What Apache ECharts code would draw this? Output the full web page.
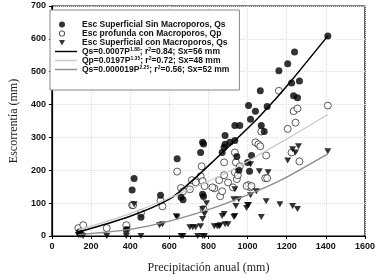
<!DOCTYPE html>
<html>
<head>
<meta charset="utf-8">
<script src="https://cdn.jsdelivr.net/npm/echarts@6/dist/echarts.min.js"></script>
<style>
  html, body { margin: 0; padding: 0; background: #fff; }
  #chart { width: 378px; height: 279px; }
</style>
</head>
<body>
<div id="chart"></div>
<script>
// puntos: [precipitacion, escorrentia] en mm
var qsSinMacro = [[140,12],[150,6],[380,18],[410,140],[420,175],[455,57],[555,124],[640,235],[660,118],[670,110],
  [760,254],[770,285],[775,280],[770,127],[775,120],[870,254],[880,270],[885,306],[885,279],[910,285],[935,291],
  [935,336],[960,336],[945,242],[955,200],[1000,224],[1010,197],[1005,397],[1015,355],[1020,245],[1040,380],
  [1065,442],[1070,336],[1085,318],[1100,394],[1160,503],[1205,524],[1225,466],[1240,560],[1235,427],[1255,421],
  [1265,472],[1410,609]];

var qpConMacro = [[135,24],[160,33],[280,24],[380,33],[410,94],[415,94],[455,70],[555,108],[565,90],[640,196],
  [660,146],[670,136],[705,142],[715,170],[735,163],[760,182],[765,212],[770,167],[780,152],[830,145],[860,121],
  [870,136],[820,148],[855,170],[880,224],[880,185],[900,163],[925,148],[935,254],[940,224],[935,194],[945,173],
  [950,185],[960,212],[1005,155],[1015,148],[995,152],[1020,152],[1040,285],[1055,279],[1065,273],[1070,318],
  [1095,245],[1090,176],[1100,176],[1160,442],[1205,326],[1225,254],[1235,380],[1245,345],[1255,388],[1265,227],
  [1410,397],[775,82]];

var qsConMacro = [[135,3],[160,0],[280,0],[380,0],[385,20],[420,97],[455,0],[550,33],[565,36],[635,60],[640,57],
  [660,0],[670,0],[705,27],[720,27],[735,27],[745,0],[760,30],[770,0],[770,52],[770,82],[780,67],[780,0],[790,100],
  [830,30],[845,30],[855,30],[860,33],[870,61],[880,67],[885,36],[900,36],[930,58],[935,61],[930,112],[935,142],
  [940,91],[955,112],[995,85],[1000,94],[1005,94],[1015,124],[1015,218],[1045,136],[1060,197],[1070,58],[1095,106],
  [1105,194],[1165,97],[1205,230],[1230,264],[1245,254],[1260,273],[1230,91],[1255,82],[1410,258]];

// curvas de ajuste
var ajusteSin = [[135,12],[400,60],[600,112],[720,170],[820,225],[1045,354],[1140,415],[1220,470],[1410,609]];
var ajusteQp = [[135,18],[400,68],[670,133],[900,195],[1170,285],[1410,370]];
var ajusteCon = [[135,4],[400,20],[600,45],[800,80],[1000,125],[1170,170],[1410,250]];

var nombres = [
  'Esc Superficial Sin Macroporos, Qs',
  'Esc profunda con Macroporos, Qp',
  'Esc Superficial con Macroporos, Qs',
  'fit1', 'fit2', 'fit3'
];
var etiquetasAjuste = {
  fit1: '{a|Qs=0.0007P}{s|1.88}{a|; r}{s|2}{a|=0.84; Sx=56 mm}',
  fit2: '{a|Qp=0.0197P}{s|1.35}{a|; r}{s|2}{a|=0.72; Sx=48 mm}',
  fit3: '{a|Qs=0.000019P}{s|2.25}{a|; r}{s|2}{a|=0.56; Sx=52 mm}'
};
var colores = ['#000', '#000', '#000', '#000', '#c8c8c8', '#8c8c8c'];

var triangulo = 'path://M0,0L10,0L5,9Z';
// iconos de leyenda: los "M" extra fijan la caja a 22x6 para colocar el simbolo
var iconoCirculo = 'path://M0,0M22,6M10,3A3,3,0,1,1,4,3A3,3,0,1,1,10,3Z';
var iconoAnillo = 'path://M0,0M22,6M10,3A3,3,0,1,1,4,3A3,3,0,1,1,10,3Z' +
  'M9.2,3A2.2,2.2,0,1,0,4.8,3A2.2,2.2,0,1,0,9.2,3Z';
var iconoTriangulo = 'path://M0,0M22,6M4,0.6L10,0.6L7,6Z';
var linea = 'path://M0,0L22,0L22,1.4L0,1.4Z';
var fuente = 'Arial, "Liberation Sans", sans-serif';

var legendData = [
  { name: nombres[0], icon: iconoCirculo, itemStyle: { color: '#000', borderWidth: 0 } },
  { name: nombres[1], icon: iconoAnillo, itemStyle: { color: '#000', borderWidth: 0 } },
  { name: nombres[2], icon: iconoTriangulo, itemStyle: { color: '#000', borderWidth: 0 } },
  { name: nombres[3], icon: linea, itemStyle: { color: colores[3], borderWidth: 0 } },
  { name: nombres[4], icon: linea, itemStyle: { color: colores[4], borderWidth: 0 } },
  { name: nombres[5], icon: linea, itemStyle: { color: colores[5], borderWidth: 0 } }
];

var chart = echarts.init(document.getElementById('chart'));
var option = {
  animation: false,
  grid: {
    left: 45, right: 13, top: 6, bottom: 42,
    show: true, borderColor: '#000', borderWidth: 1.2
  },
  legend: {
    data: legendData,
    orient: 'vertical',
    left: 50, top: 10,
    padding: [10, 10, 16, 5],
    itemGap: 0,
    itemWidth: 22, itemHeight: 6,
    borderColor: '#888', borderWidth: 1,
    backgroundColor: '#fff',
    formatter: function (name) {
      return etiquetasAjuste[name] || '{a|' + name + '}';
    },
    textStyle: {
      fontFamily: fuente, color: '#111',
      rich: {
        a: { fontSize: 8.5, fontWeight: 'bold', fontFamily: fuente, color: '#111', lineHeight: 9 },
        s: { fontSize: 5, fontWeight: 'bold', fontFamily: fuente, color: '#111', lineHeight: 9, verticalAlign: 'top', padding: [0, 0, 4, 0] }
      }
    }
  },
  xAxis: {
    type: 'value', min: 0, max: 1600, interval: 200,
    name: 'Precipitación anual (mm)', nameLocation: 'middle', nameGap: 26,
    nameTextStyle: { fontFamily: '"Liberation Serif", "Times New Roman", serif', fontSize: 12, color: '#222' },
    axisLine: { lineStyle: { color: '#000', width: 1.2 } },
    axisTick: { show: true, length: 3, lineStyle: { color: '#000' } },
    axisLabel: {
      fontFamily: fuente, fontWeight: 'bold', fontSize: 9, color: '#111', margin: 6,
      formatter: function (v) { return String(v); }
    },
    splitLine: { lineStyle: { color: '#ddd', type: 'dotted', width: 1 } }
  },
  yAxis: {
    type: 'value', min: 0, max: 700, interval: 100,
    name: 'Escorrentía (mm)', nameLocation: 'middle', nameGap: 30,
    nameTextStyle: { fontFamily: '"Liberation Serif", "Times New Roman", serif', fontSize: 12, color: '#222' },
    axisLine: { show: true, lineStyle: { color: '#000', width: 1.2 } },
    axisTick: { show: true, length: 3, lineStyle: { color: '#000' } },
    axisLabel: {
      fontFamily: fuente, fontWeight: 'bold', fontSize: 9, color: '#111', margin: 6,
      formatter: function (v) { return String(v); }
    },
    splitLine: { lineStyle: { color: '#ddd', type: 'dotted', width: 1 } }
  },
  series: [
    {
      name: nombres[0], type: 'scatter', data: qsSinMacro,
      symbol: 'circle', symbolSize: 7, z: 4,
      itemStyle: { color: '#000' }
    },
    {
      name: nombres[1], type: 'scatter', data: qpConMacro,
      symbol: 'circle', symbolSize: 7, z: 3,
      itemStyle: { color: '#fff', borderColor: '#000', borderWidth: 0.8 }
    },
    {
      name: nombres[2], type: 'scatter', data: qsConMacro,
      symbol: triangulo, symbolSize: [7, 6], z: 3,
      itemStyle: { color: '#000' }
    },
    {
      name: nombres[3], type: 'line', data: ajusteSin, smooth: 0.3,
      symbol: 'none', z: 5,
      itemStyle: { color: colores[3] },
      lineStyle: { color: colores[3], width: 1.5 }
    },
    {
      name: nombres[4], type: 'line', data: ajusteQp, smooth: 0.3,
      symbol: 'none', z: 5,
      itemStyle: { color: colores[4] },
      lineStyle: { color: colores[4], width: 1.2 }
    },
    {
      name: nombres[5], type: 'line', data: ajusteCon, smooth: 0.3,
      symbol: 'none', z: 5,
      itemStyle: { color: colores[5] },
      lineStyle: { color: colores[5], width: 1.3 }
    }
  ]
};
chart.setOption(option);
</script>
</body>
</html>
